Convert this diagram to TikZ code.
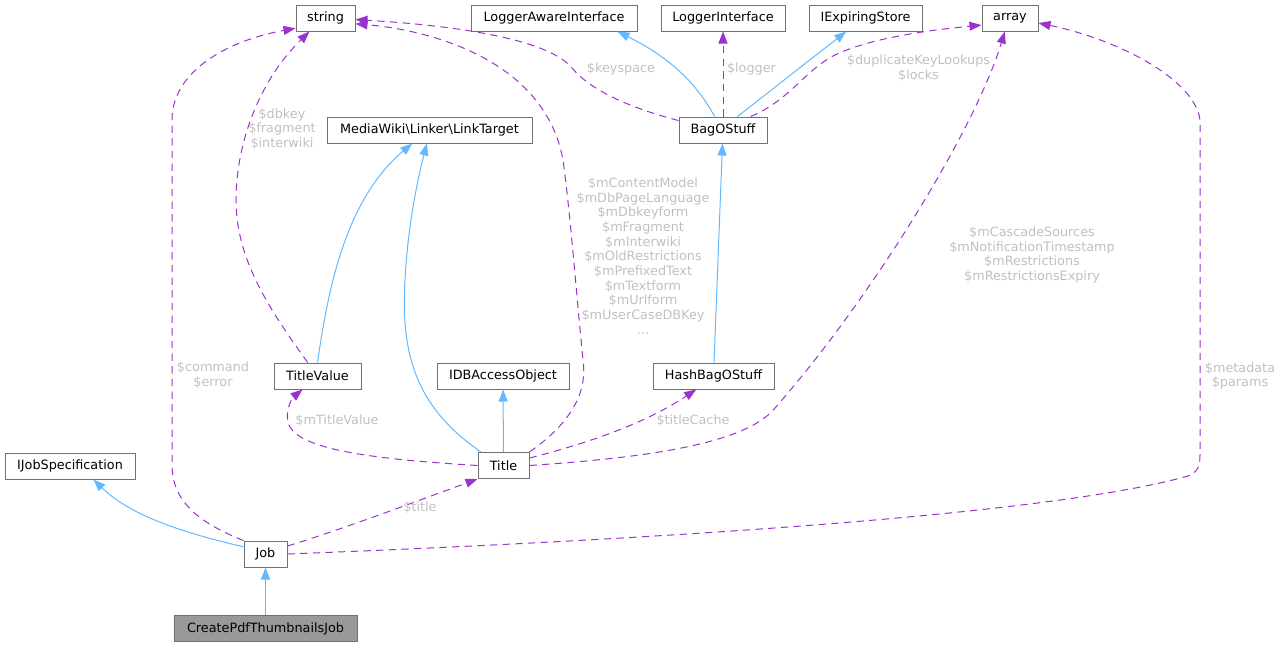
\documentclass[tikz,border=0pt]{standalone}
\usepackage{fontspec}
\setmainfont{DejaVu Sans}
\usetikzlibrary{arrows.meta}
\definecolor{inhblue}{HTML}{63B8FF}
\definecolor{usepurple}{HTML}{9A32CD}
\definecolor{lblgray}{HTML}{C0C0C0}
\definecolor{boxgray}{HTML}{707070}
\definecolor{focusgray}{HTML}{999999}
\tikzset{
    cls/.style={draw=boxgray, line width=0.75pt, fill=white, minimum height=19.5pt, inner sep=0pt, font=\fontsize{9.6}{11}\selectfont},
    inherit/.style={draw=inhblue, line width=0.75pt, -{Triangle[length=9pt,width=6.75pt]}},
    member/.style={draw=usepurple, line width=0.75pt, dash pattern=on 5.5pt off 4pt, -{Triangle[length=9pt,width=6.75pt]}},
    lbl/.style={text=lblgray, align=center, inner sep=0pt, font=\fontsize{9.6}{11}\selectfont}
}

\begin{document}
\begin{tikzpicture}[x=0.75pt, y=-0.75pt]
            \useasboundingbox (0,0) rectangle (1282,647);
            \node[cls, minimum width=44.25pt] (string) at (325.5,18) {string};
            \node[cls, minimum width=124.5pt] (law) at (554,18) {LoggerAwareInterface};
            \node[cls, minimum width=93pt] (li) at (723,18) {LoggerInterface};
            \node[cls, minimum width=84.75pt] (ies) at (865.5,18) {IExpiringStore};
            \node[cls, minimum width=42pt] (array) at (1010,18) {array};
            \node[cls, minimum width=153.75pt] (lt) at (429.5,130) {MediaWiki\textbackslash Linker\textbackslash LinkTarget};
            \node[cls, minimum width=66pt] (bag) at (723,130) {BagOStuff};
            \node[cls, minimum width=65.25pt] (tv) at (317.5,376) {TitleValue};
            \node[cls, minimum width=99pt] (idb) at (503,376) {IDBAccessObject};
            \node[cls, minimum width=90.75pt] (hash) at (713.5,376) {HashBagOStuff};
            \node[cls, minimum width=38.25pt] (title) at (503.5,465.5) {Title};
            \node[cls, minimum width=97.5pt] (ijob) at (70,466) {IJobSpecification};
            \node[cls, minimum width=32.25pt] (job) at (265.5,554) {Job};
            \node[cls, minimum width=137.25pt, fill=focusgray] (cpdf) at (265.5,628.5) {CreatePdfThumbnailsJob};

            \draw[inherit] (cpdf) -- (job);
            \draw[inherit] (job.162) .. controls (180,532) and (130,515) .. (ijob.-30);
            \draw[member] (job.north west) .. controls (205,525) and (172,505) .. (172,465) -- (172,120) .. controls (172,70) and (230,40) .. (string.199);
            \draw[member] (job.20) .. controls (340,530) and (420,500) .. (title.south west);
            \draw[member] (job.east) .. controls (650,540) and (1050,515) .. (1188,476) .. controls (1198,472) and (1200,466) .. (1200,455) -- (1200,120) .. controls (1195,80) and (1120,40) .. (array.-10);

            \draw[inherit] (title) -- (idb);
            \draw[inherit] (title.149) .. controls (420,410) and (400,360) .. (405,280) .. controls (408,220) and (420,170) .. (lt.-101);
            \draw[member] (title.west) .. controls (390,460) and (300,452) .. (289,425) .. controls (284,412) and (292,398) .. (tv.-138);
            \draw[member] (title.north east) .. controls (568,425) and (588,395) .. (583,360) .. controls (576,290) and (570,210) .. (563,160) .. controls (545,60) and (430,30) .. (string.-11);
            \draw[member] (title.16) .. controls (600,440) and (650,420) .. (hash.-142);
            \draw[member] (title.east) .. controls (640,458) and (745,445) .. (775,408) .. controls (870,300) and (975,130) .. (array.-111);

            \draw[inherit] (tv.north) .. controls (328,290) and (345,200) .. (lt.-142);
            \draw[member] (tv.126) .. controls (270,310) and (236,260) .. (236,200) .. controls (236,150) and (255,85) .. (string.-140);

            \draw[inherit] (hash) -- (bag);
            \draw[member] (bag.168) .. controls (630,108) and (590,90) .. (572,68) .. controls (545,35) and (430,24) .. (string.-3);
            \draw[inherit] (bag.122) .. controls (695,80) and (665,55) .. (law.-12);
            \draw[member] (bag) -- (li);
            \draw[inherit] (bag.43) -- (ies.-145);
            \draw[member] (bag.26) .. controls (790,100) and (805,70) .. (835,55) .. controls (870,38) and (930,30) .. (array.194);

            \node[lbl] (lcommand) at (213,375) {\$command\\\$error};
            \node[lbl] (ltitle) at (420,508) {\$title};
            \node[lbl] (lmetadata) at (1240,376) {\$metadata\\\$params};
            \node[lbl] (ltitlevalue) at (337,421) {\$mTitleValue};
            \node[lbl] (lcontent) at (643,256) {\$mContentModel\\\$mDbPageLanguage\\\$mDbkeyform\\\$mFragment\\\$mInterwiki\\\$mOldRestrictions\\\$mPrefixedText\\\$mTextform\\\$mUrlform\\\$mUserCaseDBKey\\...};
            \node[lbl] (ltitlecache) at (693,421) {\$titleCache};
            \node[lbl] (lcascade) at (1032,255) {\$mCascadeSources\\\$mNotificationTimestamp\\\$mRestrictions\\\$mRestrictionsExpiry};
            \node[lbl] (ldbkey) at (282,129) {\$dbkey\\\$fragment\\\$interwiki};
            \node[lbl] (lkeyspace) at (621,69) {\$keyspace};
            \node[lbl] (llogger) at (751.5,69) {\$logger};
            \node[lbl] (ldup) at (918.5,68) {\$duplicateKeyLookups\\\$locks};
        \end{tikzpicture}
\end{document}
